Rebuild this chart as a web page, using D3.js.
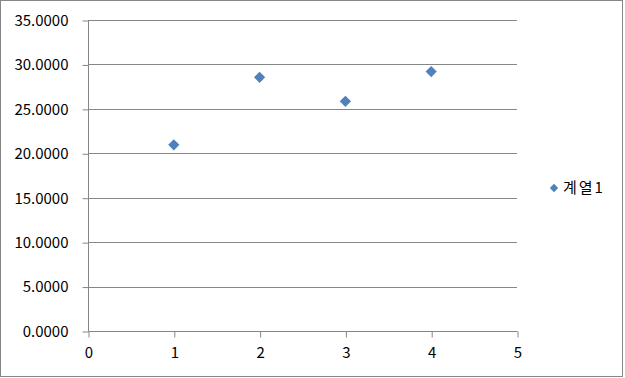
<!DOCTYPE html>
<html>
<head>
<meta charset="utf-8">
<script src="https://cdn.jsdelivr.net/npm/d3@7"></script>
<style>
  body { margin: 0; background: #fff; }
  text { font-family: "Noto Sans CJK KR", "Noto Sans", sans-serif; fill: #000; }
</style>
</head>
<body>
<div id="vis"></div>
<script>
'use strict';

// Data
const xValues = [1, 2, 3, 4];
const yValues = [20.95, 28.55, 25.85, 29.2];
const seriesName = '계열1';
const xTicks = [0, 1, 2, 3, 4, 5];
const yTicks = [0, 5, 10, 15, 20, 25, 30, 35];

const width = 625;
const height = 378;
const margin = { left: 88, right: 108, top: 20, bottom: 47 };
const gridColor = '#868686';
const markColor = '#4F81BD';

const svg = d3.select('#vis')
  .append('svg')
  .attr('width', width)
  .attr('height', height);

// chart border
svg.append('rect')
  .attr('x', 0.5).attr('y', 0.5)
  .attr('width', 622).attr('height', 376)
  .attr('fill', '#fff')
  .attr('stroke', gridColor);

const x = d3.scaleLinear()
  .domain([0, 5])
  .range([margin.left, width - margin.right]);

const y = d3.scaleLinear()
  .domain([0, 35])
  .range([height - margin.bottom, margin.top]);

// horizontal gridlines
svg.append('g')
  .selectAll('line')
  .data(yTicks.filter(d => d > 0))
  .join('line')
  .attr('x1', x(0)).attr('x2', x(5))
  .attr('y1', d => Math.round(y(d)) + 0.5)
  .attr('y2', d => Math.round(y(d)) + 0.5)
  .attr('stroke', gridColor);

// y axis
const yAxis = svg.append('g')
  .attr('transform', `translate(${Math.round(x(0)) + 0.5},0.5)`)
  .call(d3.axisLeft(y).tickValues(yTicks).tickSize(6).tickPadding(14)
    .tickFormat(d3.format('.4f')));
yAxis.selectAll('path, line').attr('stroke', gridColor);
yAxis.select('.domain').attr('d', `M0,${y(35)}V${y(0)}`);
yAxis.selectAll('text').style('font-size', '15px').attr('fill', '#000');

// x axis
const xAxis = svg.append('g')
  .attr('transform', `translate(0.5,${Math.round(y(0)) + 0.5})`)
  .call(d3.axisBottom(x).tickValues(xTicks).tickSize(6).tickPadding(10)
    .tickFormat(d3.format('d')));
xAxis.selectAll('path, line').attr('stroke', gridColor);
xAxis.select('.domain').attr('d', `M${x(0)},0H${x(5)}`);
xAxis.selectAll('text').style('font-size', '15px').attr('fill', '#000');

// diamond markers
const diamond = d3.symbol().type(d3.symbolDiamond2).size(80);
svg.append('g')
  .selectAll('path')
  .data(xValues.map((d, i) => [d, yValues[i]]))
  .join('path')
  .attr('d', diamond)
  .attr('transform', d => `translate(${x(d[0])},${y(d[1])})`)
  .attr('fill', markColor);

// legend
const legend = svg.append('g').attr('transform', 'translate(554,188)');
legend.append('path')
  .attr('d', d3.symbol().type(d3.symbolDiamond2).size(45))
  .attr('fill', markColor);
legend.append('text')
  .attr('x', 9)
  .attr('dy', '0.35em')
  .style('font-size', '15px')
  .style('letter-spacing', '2px')
  .text(seriesName);
</script>
</body>
</html>
